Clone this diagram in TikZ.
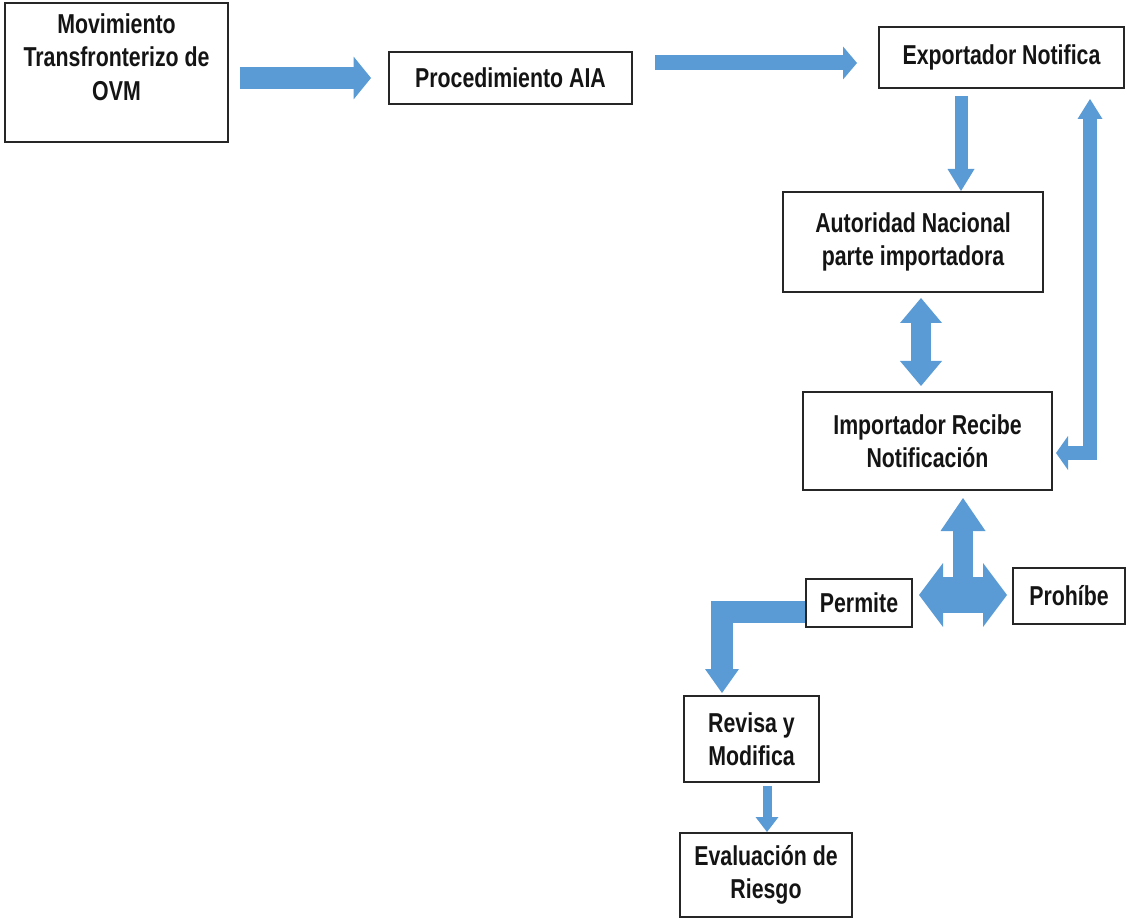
\documentclass[tikz,border=0pt]{standalone}
\usepackage{fontspec}
\setmainfont[FakeStretch=0.78]{Liberation Sans}
\usetikzlibrary{arrows.meta,calc}
\definecolor{arr}{RGB}{91,155,213}
\definecolor{txt}{RGB}{20,20,20}
\begin{document}
\begin{tikzpicture}[x=0.75pt,y=-0.75pt,
  box/.style={draw=black!85,line width=1.5pt,fill=white,inner sep=0pt,align=center,text=txt,
    font=\fontsize{20.5pt}{25pt}\selectfont\bfseries},
  lbl/.style={align=center,text=txt,inner sep=0pt,font=\fontsize{20.5pt}{25pt}\selectfont\bfseries},
  barrow/.style={draw=arr,line join=miter,line cap=butt}]
\useasboundingbox (0,0) rectangle (1127,919);

% boxes
\node[box,minimum width=167.25pt,minimum height=104.25pt] (mov) at (116.5,72.5) {};
\node[lbl] (movt) at (116.5,57) {Movimiento\\Transfronterizo de\\OVM};
\node[box,minimum width=182.25pt,minimum height=39pt] (proc) at (510.5,78) {Procedimiento AIA};
\node[box,minimum width=183.75pt,minimum height=45.75pt] (exp) at (1001.5,57.5) {Exportador Notifica};
\node[box,minimum width=195pt,minimum height=75pt] (aut) at (913,242) {Autoridad Nacional\\parte importadora};
\node[box,minimum width=186.75pt,minimum height=73.5pt] (imp) at (927.5,441) {Importador Recibe\\Notificación};
\node[box,minimum width=79.5pt,minimum height=36pt] (perm) at (859,603) {Permite};
\node[box,minimum width=84pt,minimum height=42pt] (proh) at (1069,596) {Prohíbe};
\node[box,minimum width=101.25pt,minimum height=64.5pt] (rev) at (751.5,739) {Revisa y\\Modifica};
\node[box,minimum width=129pt,minimum height=63pt] (eva) at (766,875) {Evaluación de\\Riesgo};

% block arrows
\draw[barrow,line width=16.5pt,-{Triangle[length=13pt,width=32pt,line width=0pt]}]
  (240,0 |- proc.west) -- ($(proc.west)+(-17,0)$);
\draw[barrow,line width=11.25pt,-{Triangle[length=10.5pt,width=24.75pt,line width=0pt]}]
  (655,63) -- ($(exp.west |- 0,63)+(-21,0)$);
\draw[barrow,line width=9.75pt,-{Triangle[length=16.5pt,width=20.25pt,line width=0pt]}]
  (961,0 |- exp.south) ++(0,7) -- (961,0 |- aut.north);
\draw[barrow,line width=15pt,{Triangle[length=18.75pt,width=31.5pt,line width=0pt]}-{Triangle[length=18.75pt,width=31.5pt,line width=0pt]}]
  ($(921,0 |- aut.south)+(0,5)$) -- ($(921,0 |- imp.north)+(0,-5)$);
\draw[barrow,line width=10.5pt,{Triangle[length=9pt,width=25.5pt,line width=0pt]}-{Triangle[length=15pt,width=18.75pt,line width=0pt]}]
  ($(imp.east |- 0,453)+(3,0)$) -- (1090,453) -- ($(1090,0 |- exp.south)+(0,10)$);
\draw[barrow,line width=27pt,{Triangle[length=18pt,width=48pt,line width=0pt]}-{Triangle[length=18pt,width=48pt,line width=0pt]}]
  ($(perm.east |- 0,595)+(6,0)$) -- ($(proh.west |- 0,595)+(-5,0)$);
\draw[barrow,line width=15pt,-{Triangle[length=24.75pt,width=33.75pt,line width=0pt]}]
  (963,595) -- ($(963,0 |- imp.south)+(0,7)$);
\draw[barrow,line width=16.5pt,-{Triangle[length=18pt,width=25.5pt,line width=0pt]}]
  (perm.west |- 0,612) -- (722,612) -- ($(722,0 |- rev.north)+(0,-2)$);
\draw[barrow,line width=6.75pt,-{Triangle[length=11.25pt,width=17.25pt,line width=0pt]}]
  ($(767,0 |- rev.south)+(0,3)$) -- (767,0 |- eva.north);
\end{tikzpicture}
\end{document}
